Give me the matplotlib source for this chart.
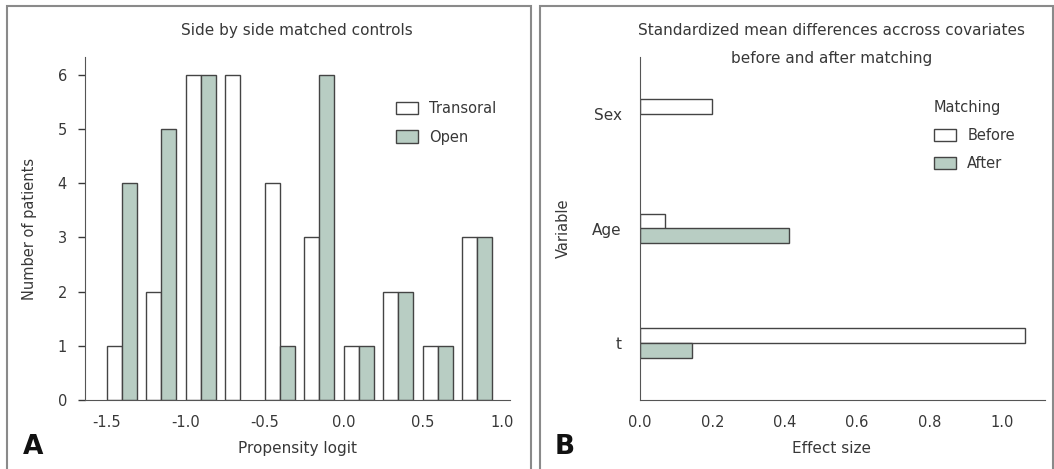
import numpy as np
import matplotlib
matplotlib.use('Agg')
import matplotlib.pyplot as plt
from matplotlib.patches import Rectangle

# Panel A : histogramme côte à côte
bin_starts = [-1.5, -1.25, -1.0, -0.75, -0.5, -0.25, 0.0, 0.25, 0.5, 0.75]
transoral = [1, 2, 6, 6, 4, 3, 1, 2, 1, 3]
open_grp = [4, 5, 6, 0, 1, 6, 1, 2, 1, 3]
xticks_a = [-1.5, -1.0, -0.5, 0.0, 0.5, 1.0]
yticks_a = [0, 1, 2, 3, 4, 5, 6]

# Panel B : différences moyennes standardisées
variables = ['t', 'Age', 'Sex']
before = [1.064, 0.070, 0.199]
after = [0.144, 0.412, 0.0]
xticks_b = [0.0, 0.2, 0.4, 0.6, 0.8, 1.0]

green = '#b8cdc3'
edge = '#444444'
txt = '#383838'
plt.rcParams['font.family'] = 'DejaVu Sans'
plt.rcParams['text.color'] = txt
plt.rcParams['axes.labelcolor'] = txt

W, H = 1054, 469
fig = plt.figure(figsize=(W / 100, H / 100), dpi=100)

def px_axes(l, r, t, b):
    return fig.add_axes([l / W, 1 - b / H, (r - l) / W, (b - t) / H])

def nz(xs, vals):
    # on ne dessine pas les barres vides
    xs = np.asarray(xs, dtype=float)
    vals = np.asarray(vals, dtype=float)
    keep = vals > 0
    return xs[keep], vals[keep]

# cadres des panneaux
for (l, r) in [(7, 531), (540, 1053)]:
    fig.add_artist(Rectangle((l / W, -0.01), (r - l) / W, 1 - 6 / H + 0.01,
                             transform=fig.transFigure, fill=False,
                             edgecolor='#8a8a8a', linewidth=1.5))

# --- A ---
axA = px_axes(85, 510, 57, 400)
w = 0.095
x = np.array(bin_starts)
xa, va = nz(x, transoral)
axA.bar(xa, va, width=w, align='edge', color='white', edgecolor=edge,
        linewidth=1.0, label='Transoral')
xb, vb = nz(x + w, open_grp)
axA.bar(xb, vb, width=w, align='edge', color=green, edgecolor=edge,
        linewidth=1.0, label='Open')
axA.set_xlim(-1.639, 1.051)
axA.set_ylim(0, 6.33)
axA.set_xticks(xticks_a)
axA.set_xticklabels(['%.1f' % v for v in xticks_a])
axA.set_yticks(yticks_a)
axA.tick_params(axis='x', length=0, pad=11, labelsize=10.5, colors=txt)
axA.tick_params(axis='y', length=5, pad=8, labelsize=10.5, colors=txt, width=1)
for s in ['top', 'right']:
    axA.spines[s].set_visible(False)
for s in ['left', 'bottom']:
    axA.spines[s].set_color('#555555')
axA.set_ylabel('Number of patients', fontsize=10.5)
axA.yaxis.set_label_coords(-48 / 425, 0.5)
fig.text(297 / W, 1 - 30 / H, 'Side by side matched controls', ha='center',
         va='center', fontsize=11)
fig.text(297 / W, 1 - 448 / H, 'Propensity logit', ha='center', va='center',
         fontsize=11)
fig.text(33 / W, 1 - 447 / H, 'A', ha='center', va='center', fontsize=19,
         fontweight='bold', color='#111111')
axA.legend(loc='upper left', bbox_to_anchor=(305 / 425, (400 - 95) / 343),
           frameon=False, fontsize=10.5, handlelength=1.5, handleheight=0.95,
           handletextpad=0.8, labelspacing=0.95, borderaxespad=0)

# --- B ---
axB = px_axes(640, 1045, 57, 400)
y = np.arange(len(variables))
h = 0.13
yb, vbf = nz(y + h / 2, before)
axB.barh(yb, vbf, height=h, color='white', edgecolor=edge,
         linewidth=1.0, label='Before')
ya, vaf = nz(y - h / 2, after)
axB.barh(ya, vaf, height=h, color=green, edgecolor=edge,
         linewidth=1.0, label='After')
axB.set_ylim(-0.5, 2.5)
axB.set_xlim(0, 1.119)
axB.set_yticks(y)
axB.set_yticklabels(variables)
axB.set_xticks(xticks_b)
axB.set_xticklabels(['%.1f' % v for v in xticks_b])
axB.tick_params(axis='x', length=0, pad=11, labelsize=10.5, colors=txt)
axB.tick_params(axis='y', length=0, pad=13, labelsize=11, colors=txt)
for s in ['top', 'right']:
    axB.spines[s].set_visible(False)
for s in ['left', 'bottom']:
    axB.spines[s].set_color('#555555')
axB.set_ylabel('Variable', fontsize=10.5)
axB.yaxis.set_label_coords(-69 / 405, 0.5)
fig.text(832 / W, 1 - 30 / H, 'Standardized mean differences accross covariates',
         ha='center', va='center', fontsize=11)
fig.text(832 / W, 1 - 58 / H, 'before and after matching', ha='center',
         va='center', fontsize=11)
fig.text(832 / W, 1 - 448 / H, 'Effect size', ha='center', va='center',
         fontsize=11)
fig.text(565 / W, 1 - 447 / H, 'B', ha='center', va='center', fontsize=19,
         fontweight='bold', color='#111111')
axB.legend(title='Matching', loc='upper left',
           bbox_to_anchor=(288 / 405, (400 - 94) / 343),
           frameon=False, fontsize=10.5, title_fontsize=10.5, handlelength=1.5,
           handleheight=0.95, handletextpad=0.8, labelspacing=0.9,
           borderaxespad=0, alignment='left')

fig.savefig('out.png', dpi=100)
